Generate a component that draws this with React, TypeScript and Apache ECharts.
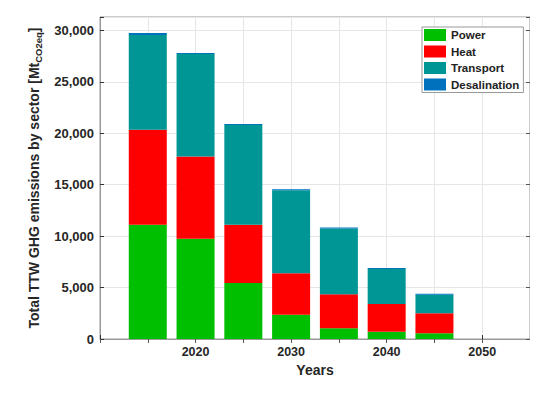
import React, { useEffect, useRef } from "react";
import * as echarts from "echarts";

const years = [2015, 2020, 2025, 2030, 2035, 2040, 2045];
const power = [11100, 9750, 5450, 2350, 1050, 700, 550];
const heat = [9250, 8000, 5650, 4050, 3300, 2700, 1950];
const transport = [9200, 9950, 9700, 8050, 6400, 3400, 1800];
const desalination = [200, 100, 100, 100, 100, 100, 100];
const xTickLabels = [2020, 2030, 2040, 2050];
const seriesNames = ["Power", "Heat", "Transport", "Desalination"];
const seriesColors = ["#00BF00", "#FF0000", "#009696", "#0072BD"];

export default function App() {
  const ref = useRef<HTMLDivElement>(null);
  useEffect(() => {
    if (!ref.current) return;
    const chart = echarts.init(ref.current, undefined, { renderer: "svg" });
    const values = [power, heat, transport, desalination];
    const font = "'Liberation Sans', Arial, sans-serif";
    const xCommon = {
      type: "value",
      min: 2010,
      max: 2055,
      interval: 5,
    };
    const yCommon = {
      type: "value",
      min: 0,
      max: 31300,
      interval: 5000,
    };
    chart.setOption({
      animation: false,
      textStyle: { fontFamily: font },
      grid: {
        left: 100,
        right: 8,
        top: 17,
        bottom: 56,
        show: true,
        borderColor: "#999",
        borderWidth: 1,
        backgroundColor: "#fff",
      },
      legend: {
        orient: "vertical",
        left: 422,
        top: 27,
        itemWidth: 22,
        itemHeight: 12,
        itemGap: 4.5,
        padding: [2, 4, 2, 2],
        borderColor: "#999",
        borderWidth: 1,
        backgroundColor: "#fff",
        textStyle: { fontSize: 11.5, fontWeight: "bold", color: "#222", fontFamily: font },
        data: seriesNames.map((n) => ({ name: n, icon: "rect" })),
      },
      xAxis: [
        {
          ...xCommon,
          position: "bottom",
          name: "Years",
          nameLocation: "middle",
          nameGap: 24,
          nameTextStyle: { fontSize: 14, fontWeight: "bold", color: "#262626", fontFamily: font },
          axisLine: { show: true, lineStyle: { color: "#999" } },
          axisTick: { show: true, inside: true, length: 4, lineStyle: { color: "#333" } },
          axisLabel: {
            fontSize: 12.5,
            fontWeight: "bold",
            color: "#262626",
            margin: 6,
            formatter: (v: number) => (xTickLabels.includes(v) ? String(v) : ""),
          },
          splitLine: { show: true, lineStyle: { color: "#e6e6e6" } },
        },
        {
          ...xCommon,
          position: "top",
          axisLine: { show: false },
          axisTick: { show: true, inside: true, length: 4, lineStyle: { color: "#555" } },
          axisLabel: { show: false },
          splitLine: { show: false },
        },
      ],
      yAxis: [
        {
          ...yCommon,
          position: "left",
          name: "Total TTW GHG emissions by sector [Mt{sub|CO2eq}]",
          nameLocation: "middle",
          nameRotate: 90,
          nameGap: 52,
          nameTextStyle: {
            fontSize: 14,
            fontWeight: "bold",
            color: "#262626",
            fontFamily: font,
            lineHeight: 18,
            rich: {
              sub: {
                fontSize: 9.5,
                fontWeight: "bold",
                color: "#262626",
                fontFamily: font,
                verticalAlign: "bottom",
                lineHeight: 11,
              },
            },
          },
          axisLine: { show: true, lineStyle: { color: "#999" } },
          axisTick: { show: true, inside: true, length: 4, lineStyle: { color: "#333" } },
          axisLabel: {
            fontSize: 13,
            fontWeight: "bold",
            color: "#262626",
            margin: 6,
            formatter: (v: number) =>
              v % 5000 === 0 ? v.toLocaleString("en-US") : "",
          },
          splitLine: { show: true, lineStyle: { color: "#e6e6e6" } },
        },
        {
          ...yCommon,
          position: "right",
          axisLine: { show: false },
          axisTick: { show: true, inside: true, length: 4, lineStyle: { color: "#555" } },
          axisLabel: { show: false },
          splitLine: { show: false },
        },
      ],
      series: seriesNames.map((name, k) => ({
        name,
        type: "bar",
        stack: "total",
        xAxisIndex: 0,
        yAxisIndex: 0,
        barWidth: 38,
        itemStyle: { color: seriesColors[k] },
        encode: { x: 1, y: 0 },
        data: years.map((y, i) => [values[k][i], y]),
      })),
    });
    return () => chart.dispose();
  }, []);
  return <div ref={ref} style={{ width: 538, height: 395, margin: -8 }} />;
}
